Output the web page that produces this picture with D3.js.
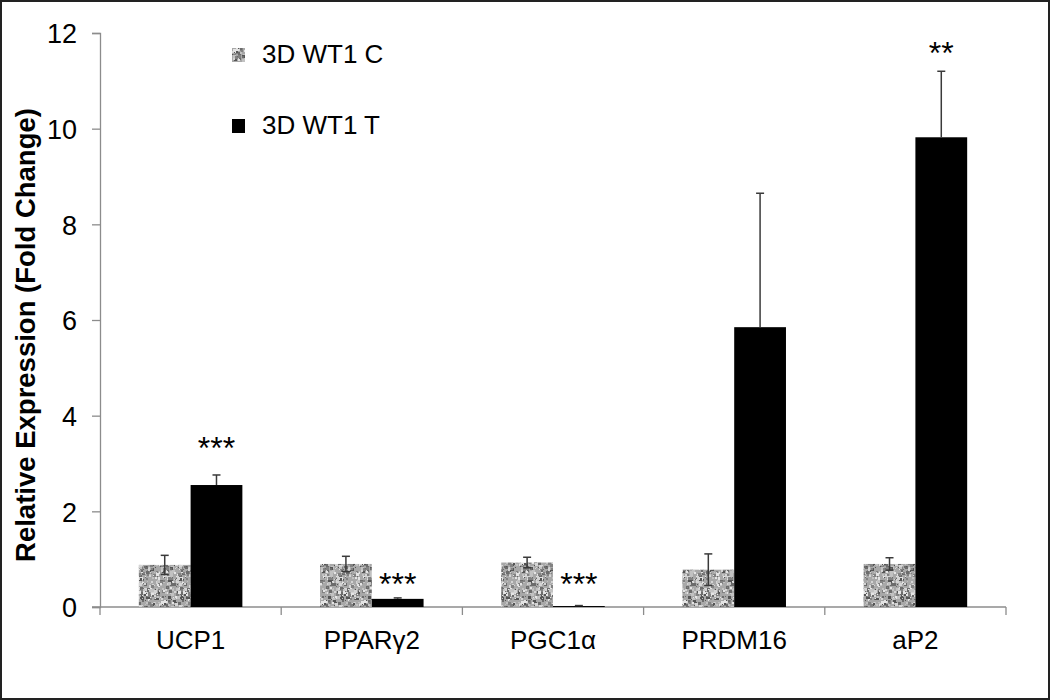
<!DOCTYPE html>
<html>
<head>
<meta charset="utf-8">
<script src="https://cdn.jsdelivr.net/npm/d3@7"></script>
<style>
  html, body { margin: 0; padding: 0; background: #fff; }
  svg { display: block; font-family: "Liberation Sans", Arial, sans-serif; }
  .axis path, .axis line { stroke: #8c8c8c; stroke-width: 1.3; }
  .axis text { fill: #000; }
</style>
</head>
<body>
<div id="chart"></div>
<script>
// values
const genes = ["UCP1", "PPARγ2", "PGC1α", "PRDM16", "aP2"];
const seriesNames = ["3D WT1 C", "3D WT1 T"];
const controlMean = [0.88, 0.90, 0.93, 0.78, 0.90];
const controlErr  = [0.20, 0.16, 0.11, 0.33, 0.13];
const treatMean   = [2.55, 0.17, 0.02, 5.85, 9.82];
const treatErr    = [0.21, 0.02, 0.01, 2.80, 1.38];
const stars       = ["***", "***", "***", "", "**"];
const starLevel   = [3.47, 0.61, 0.61, null, 11.71];   // centre height of the stars, in fold change
const yTicks = [0, 2, 4, 6, 8, 10, 12];

const W = 1050, H = 700;
const m = { l: 100, r: 44, t: 33, b: 93 };

const svg = d3.select("#chart").append("svg").attr("width", W).attr("height", H);

// speckled grey texture for the control bars (seeded so it is stable)
function mulberry32(seed) {
  let a = seed >>> 0;
  return function () {
    a |= 0; a = (a + 0x6d2b79f5) | 0;
    let t = Math.imul(a ^ (a >>> 15), 1 | a);
    t = (t + Math.imul(t ^ (t >>> 7), 61 | t)) ^ t;
    return ((t ^ (t >>> 14)) >>> 0) / 4294967296;
  };
}
const rng = mulberry32(7);
const defs = svg.append("defs");
const pat = defs.append("pattern").attr("id", "speckle")
  .attr("patternUnits", "userSpaceOnUse").attr("width", 40).attr("height", 40);
pat.append("rect").attr("width", 40).attr("height", 40).attr("fill", "#a8a8a8");
const shades = ["#555", "#6c6c6c", "#828282", "#c2c2c2", "#d4d4d4", "#e4e4e4"];
for (let i = 0; i < 300; i++) {
  const s = 1 + Math.floor(rng() * 3);
  pat.append("rect")
    .attr("x", Math.floor(rng() * 40)).attr("y", Math.floor(rng() * 40))
    .attr("width", s).attr("height", s)
    .attr("fill", shades[Math.floor(rng() * shades.length)]);
}

const x = d3.scaleBand().domain(genes).range([m.l, W - m.r]).padding(0);
const xs = d3.scaleBand().domain(seriesNames).range([0, x.bandwidth()])
  .paddingInner(0).paddingOuter(0.75);
const y = d3.scaleLinear().domain([0, 12]).range([H - m.b, m.t]);

// y axis
const gy = svg.append("g").attr("class", "axis")
  .attr("transform", `translate(${m.l},0)`)
  .call(d3.axisLeft(y).tickValues(yTicks).tickSize(8).tickPadding(15));
gy.selectAll("text").style("font-size", "27px").attr("dy", "0.36em");

// x axis: ticks at category boundaries
const gx = svg.append("g").attr("class", "axis")
  .attr("transform", `translate(0,${y(0)})`);
gx.append("line").attr("x1", m.l - 8).attr("x2", W - m.r);
const bounds = genes.map(g => x(g)).concat([x(genes[genes.length - 1]) + x.bandwidth()]);
gx.selectAll("line.tk").data(bounds).enter().append("line").attr("class", "tk")
  .attr("x1", d => d).attr("x2", d => d).attr("y1", 0).attr("y2", 8);
gx.selectAll("text").data(genes).enter().append("text")
  .attr("x", d => x(d) + x.bandwidth() / 2).attr("y", 42)
  .attr("text-anchor", "middle").style("font-size", "26px").text(d => d);

// bars
const rows = [];
genes.forEach((g, i) => {
  rows.push({ gene: g, s: seriesNames[0], v: controlMean[i], e: controlErr[i], both: true });
  rows.push({ gene: g, s: seriesNames[1], v: treatMean[i], e: treatErr[i], both: false });
});
const fill = { "3D WT1 C": "url(#speckle)", "3D WT1 T": "#000" };

svg.append("g").selectAll("rect").data(rows).enter().append("rect")
  .attr("x", d => x(d.gene) + xs(d.s))
  .attr("width", xs.bandwidth())
  .attr("y", d => y(d.v))
  .attr("height", d => y(0) - y(d.v))
  .attr("fill", d => fill[d.s]);

// error bars (the lower half of the black bars disappears into the bar)
const eb = svg.append("g").attr("stroke", "#3a3a3a").attr("stroke-width", 1.5);
rows.forEach(d => {
  const cx = x(d.gene) + xs(d.s) + xs.bandwidth() / 2;
  const lo = d.both ? Math.max(0, d.v - d.e) : d.v, hi = d.v + d.e;
  eb.append("line").attr("x1", cx).attr("x2", cx).attr("y1", y(lo)).attr("y2", y(hi));
  (d.both ? [lo, hi] : [hi]).forEach(v => eb.append("line")
    .attr("x1", cx - 4).attr("x2", cx + 4).attr("y1", y(v)).attr("y2", y(v)));
});

// significance stars above treated bars
const starSize = 32;
svg.append("g").selectAll("text").data(genes.filter((g, i) => stars[i])).enter().append("text")
  .attr("x", d => x(d) + xs(seriesNames[1]) + xs.bandwidth() / 2)
  .attr("y", d => y(starLevel[genes.indexOf(d)]) + starSize * 0.55)
  .attr("text-anchor", "middle").style("font-size", starSize + "px")
  .text(d => stars[genes.indexOf(d)]);

// y label
svg.append("text")
  .attr("transform", `translate(35,335) rotate(-90)`)
  .attr("text-anchor", "middle").style("font-size", "27.5px").style("font-weight", "bold")
  .text("Relative Expression (Fold Change)");

// legend
const lg = svg.append("g").attr("transform", "translate(232,48)");
seriesNames.forEach((s, i) => {
  const r = lg.append("g").attr("transform", `translate(0,${i * 71})`);
  r.append("rect").attr("width", 13).attr("height", 14).attr("fill", fill[s]);
  r.append("text").attr("x", 30).attr("y", 15).style("font-size", "26px").text(s);
});

// outer frame
svg.append("rect").attr("x", 1).attr("y", 1).attr("width", W - 2).attr("height", H - 2)
  .attr("fill", "none").attr("stroke", "#222").attr("stroke-width", 2);
</script>
</body>
</html>
